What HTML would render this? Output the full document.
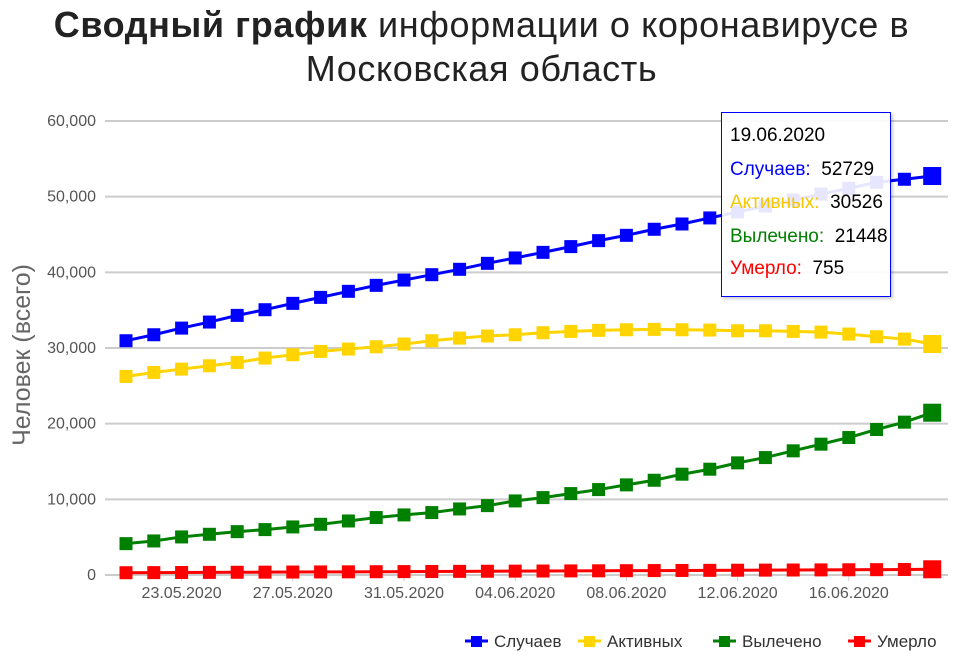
<!DOCTYPE html>
<html><head><meta charset="utf-8">
<style>
body{margin:0;background:#fff;font-family:"Liberation Sans","DejaVu Sans",sans-serif;}
#wrap{position:relative;width:963px;height:656px;overflow:hidden;}
#title{position:absolute;left:0;top:3px;width:963px;text-align:center;font-size:36px;letter-spacing:0.6px;line-height:44px;color:#222;}
#tip{position:absolute;left:721px;top:112px;width:168px;height:183px;border:1px solid #0000ff;background:rgba(255,255,255,0.9);box-shadow:2px 2px 3px rgba(0,0,0,0.2);font-size:19px;}
#tip div{position:absolute;left:8px;white-space:nowrap;}
</style></head><body>
<div id="wrap">
<div id="title"><b>Сводный график</b> информации о коронавирусе в<br>Московская область</div>
<svg id="chart" width="963" height="656" style="position:absolute;left:0;top:0"></svg>
<div id="tip">
<div style="top:12px;color:#000">19.06.2020</div>
<div style="top:46px;color:#0000ff">Случаев:&nbsp; <span style="color:#000">52729</span></div>
<div style="top:79px;color:#f5c800">Активных:&nbsp; <span style="color:#000">30526</span></div>
<div style="top:113px;color:#008000">Вылечено:&nbsp; <span style="color:#000">21448</span></div>
<div style="top:145px;color:#ff0000">Умерло:&nbsp; <span style="color:#000">755</span></div>
</div>
</div>
<script>
const dates=["21.05.2020","22.05.2020","23.05.2020","24.05.2020","25.05.2020","26.05.2020","27.05.2020","28.05.2020","29.05.2020","30.05.2020","31.05.2020","01.06.2020","02.06.2020","03.06.2020","04.06.2020","05.06.2020","06.06.2020","07.06.2020","08.06.2020","09.06.2020","10.06.2020","11.06.2020","12.06.2020","13.06.2020","14.06.2020","15.06.2020","16.06.2020","17.06.2020","18.06.2020","19.06.2020"];
const cases=[30960,31750,32630,33430,34310,35060,35900,36690,37490,38280,38980,39690,40400,41190,41900,42640,43400,44190,44890,45690,46390,47190,47980,48750,49550,50350,51100,51900,52300,52729];
const active=[26240,26770,27210,27650,28090,28670,29110,29550,29860,30160,30520,30960,31310,31580,31750,32020,32190,32330,32410,32460,32410,32370,32280,32280,32190,32100,31840,31490,31180,30526];
const recovered=[4145,4500,5030,5380,5730,6000,6350,6700,7140,7590,7940,8250,8730,9170,9790,10230,10760,11290,11910,12520,13320,13980,14820,15520,16410,17290,18170,19230,20200,21448];
const deaths=[300,315,330,345,360,375,390,405,420,435,450,465,480,495,510,525,540,555,570,585,600,615,630,645,660,675,690,705,725,755];
const yTicks=[0,10000,20000,30000,40000,50000,60000];
const yTickLabels=["0","10,000","20,000","30,000","40,000","50,000","60,000"];
const xTickIdx=[2,6,10,14,18,22,26];
const seriesNames=["Случаев","Активных","Вылечено","Умерло"];
const colors=["#0000ff","#ffd400","#008000","#ff0000"];

const svg=document.getElementById('chart');
const NS='http://www.w3.org/2000/svg';
const X0=126,DX=27.8,Y0=575,YMAX=60000,YH=454;
function x(i){return X0+i*DX;}
function y(v){return Y0-v/YMAX*YH;}
function mk(t,a){const e=document.createElementNS(NS,t);for(const k in a)e.setAttribute(k,a[k]);svg.appendChild(e);return e;}
yTicks.forEach((v,i)=>{
 const l=mk('line',{x1:105,x2:948,y1:y(v),y2:y(v),stroke:'#ccc','stroke-width':2});
 
 
 const t=mk('text',{x:96,y:y(v)+5,'text-anchor':'end','font-size':16,fill:'#555'});
 t.textContent=yTickLabels[i];
 
 
});
xTickIdx.forEach(i=>{
 const tk=mk('line',{x1:x(i),x2:x(i),y1:Y0,y2:Y0+6,stroke:'#ccc','stroke-width':1});
 
 
 const t=mk('text',{x:x(i),y:598,'text-anchor':'middle','font-size':16,fill:'#555'});
 t.textContent=dates[i];
 
 
});
const yt=mk('text',{x:30,y:355,'text-anchor':'middle','font-size':25,fill:'#666',transform:'rotate(-90 30 355)'});
yt.textContent='Человек (всего)';


[cases,active,recovered,deaths].forEach((arr,s)=>{
 const p=mk('polyline',{points:arr.map((v,i)=>x(i)+','+y(v)).join(' '),fill:'none',stroke:colors[s],'stroke-width':3});
 
 
 arr.forEach((v,i)=>{
  const last=i===arr.length-1, r=last?9:6.5;
  const m=mk('rect',{x:x(i)-r,y:y(v)-r,width:2*r,height:2*r,fill:colors[s]});
  
  
 });
});
const lx=[465,578,713,848];
seriesNames.forEach((n,s)=>{
 const g=mk('line',{x1:lx[s],x2:lx[s]+23,y1:641,y2:641,stroke:colors[s],'stroke-width':3});
 
 
 const r=mk('rect',{x:lx[s]+6,y:636,width:11,height:11,fill:colors[s]});
 
 
 const t=mk('text',{x:lx[s]+29,y:647,'font-size':17,fill:'#333'});
 t.textContent=n;
 
 
});
</script>
</body></html>
